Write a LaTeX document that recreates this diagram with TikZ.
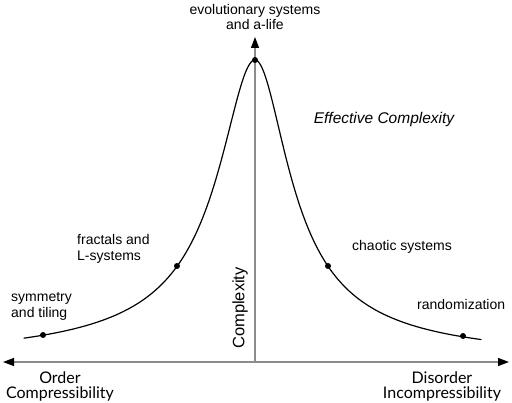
\documentclass[tikz,border=0pt]{standalone}
\usepackage{fontspec}
\setmainfont{Liberation Sans}
\newfontfamily\gillfont{Lato}
\newfontfamily\comicfont{Liberation Sans}
\usetikzlibrary{arrows.meta}
\begin{document}
\begin{tikzpicture}[x=1pt,y=-1pt,
  lbl/.style={inner sep=0pt,font=\fontsize{14}{16}\selectfont},
  axlbl/.style={inner sep=0pt,font=\gillfont\fontsize{16}{15}\selectfont,align=center},
  pt/.style={circle,fill=black,inner sep=0pt,minimum size=6pt},
  axis/.style={draw=black!45,line width=1.2pt},
  crv/.style={line width=1.2pt,line join=round,line cap=round},
  tip/.style={-{Triangle[length=11pt,width=8pt,fill=black,color=black]}}]
\useasboundingbox (0,0) rectangle (512,403);
\coordinate (o) at (255,362);
\coordinate (l) at (3,362);
\coordinate (r) at (509,362);
\coordinate (t) at (255,37);
% axes
\draw[axis,tip] (o) -- (t);
\draw[axis,tip] (o) -- (l);
\draw[axis,tip] (o) -- (r);
% curve
\draw[crv] plot[domain=-231:0,samples=151,smooth]
  ({255+\x},{362-302*(1+(\x/38.2)^2)^(-0.7)});
\draw[crv] plot[domain=0:226,samples=151,smooth]
  ({255+\x},{362-302*(1+(\x/35.8)^2)^(-0.7)});
\node[pt] (p1) at (43,335) {};
\node[pt] (p2) at (177,266) {};
\node[pt] (p3) at (255,60) {};
\node[pt] (p4) at (328,266) {};
\node[pt] (p5) at (463,336) {};
% labels
\node[lbl,align=center] (evo) at (255,17) {evolutionary systems\\and a-life};
\node[font=\comicfont\itshape\fontsize{15.5}{16}\selectfont,inner sep=0pt] (ec) at (384,119) {Effective Complexity};
\node[lbl,align=left,anchor=west] (fr) at (77,249) {fractals and\\L-systems};
\node[lbl,align=left,anchor=west] (sym) at (11,306) {symmetry\\and tiling};
\node[lbl,anchor=west] (ch) at (352,247) {chaotic systems};
\node[lbl,anchor=west] (rnd) at (417,304) {randomization};
\node[lbl,font=\fontsize{16.5}{18}\selectfont,rotate=90] (cx) at (240,308) {Complexity};
\node[axlbl] (ord) at (60,386) {Order\\Compressibility};
\node[axlbl] (dis) at (442,386) {Disorder\\Incompressibility};
\end{tikzpicture}
\end{document}
